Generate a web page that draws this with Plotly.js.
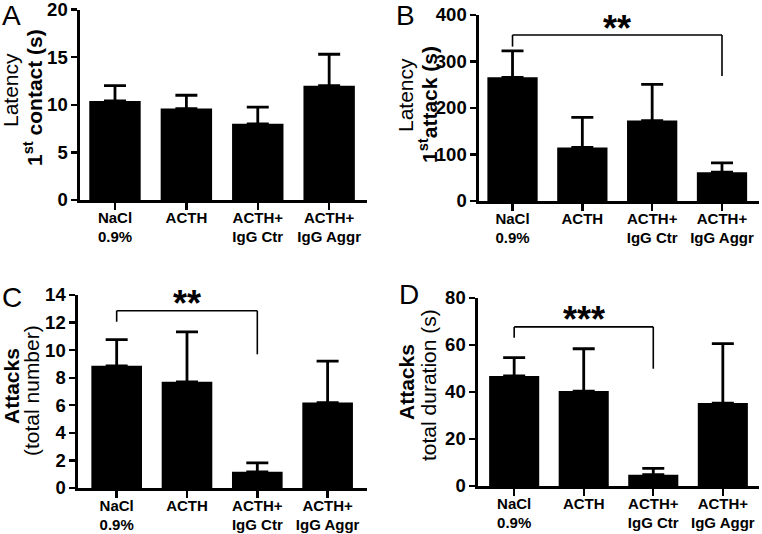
<!DOCTYPE html>
<html><head><meta charset="utf-8">
<script src="https://cdn.plot.ly/plotly-3.0.1.min.js"></script>
<style>html,body{margin:0;padding:0;background:#fff}#chart{width:762px;height:534px}</style>
</head><body><div id="chart"></div><script>
// ---- data ----
const groups = ['NaCl<br>0.9%', 'ACTH', 'ACTH+<br>IgG Ctr', 'ACTH+<br>IgG Aggr'];
const groupIndex = [0, 1, 2, 3];

const latencyContact = [10.4, 9.6, 8.0, 12.0];
const latencyContactSem = [1.6, 1.4, 1.75, 3.3];

const latencyAttack = [266, 115, 173, 62];
const latencyAttackSem = [57, 65, 78, 20];

const attacksNumber = [8.86, 7.7, 1.17, 6.2];
const attacksNumberSem = [1.9, 3.63, 0.65, 3.0];

const attacksDuration = [46.8, 40.4, 4.8, 35.3];
const attacksDurationSem = [7.8, 18.0, 2.7, 25.3];

const yTicksA = [0, 5, 10, 15, 20];
const yTicksB = [0, 100, 200, 300, 400];
const yTicksC = [0, 2, 4, 6, 8, 10, 12, 14];
const yTicksD = [0, 20, 40, 60, 80];

// significance brackets
const sigB = {from: 0, to: 3, y: 357, left: 332, right: 269, label: '**', lx: 1.5, ly: 370};
const sigC = {from: 0, to: 2, y: 12.86, left: 12.06, right: 9.7, label: '**', lx: 1, ly: 13.35};
const sigD = {from: 0, to: 2, y: 67.7, left: 63.1, right: 49.9, label: '***', lx: 1, ly: 70.9};

// ---- build ----
const FONT = 'Liberation Sans, Arial, Helvetica, sans-serif';
function barTrace(vals, sem, xa, ya) {
  return {
    type: 'bar', x: groupIndex, y: vals, xaxis: xa, yaxis: ya, width: 0.72,
    marker: {color: '#000', line: {width: 0}},
    error_y: {type: 'data', symmetric: false, array: sem, arrayminus: sem.map(() => 0),
              color: '#000', thickness: 2.8, width: 11},
    hoverinfo: 'skip', showlegend: false
  };
}
const data = [
  barTrace(latencyContact, latencyContactSem, 'x', 'y'),
  barTrace(latencyAttack, latencyAttackSem, 'x2', 'y2'),
  barTrace(attacksNumber, attacksNumberSem, 'x3', 'y3'),
  barTrace(attacksDuration, attacksDurationSem, 'x4', 'y4')
];

function xAxis(domain, range, anchor) {
  return {domain: domain, range: range, anchor: anchor, tickvals: groupIndex, ticktext: groups,
    showline: true, linecolor: '#000', linewidth: 2.6, ticks: 'outside', ticklen: 7, tickwidth: 2.4,
    tickcolor: '#000', showgrid: false, zeroline: false, fixedrange: true,
    ticklabelstandoff: -5, ticklabeloverflow: 'allow',
    tickfont: {family: FONT, size: 15, color: '#000', weight: 'bold'}};
}
function yAxis(domain, range, ticks, anchor) {
  return {domain: domain, range: range, anchor: anchor, tickvals: ticks, ticktext: ticks.map(String),
    showline: true, linecolor: '#000', linewidth: 2.6, ticks: 'outside', ticklen: 6, tickwidth: 2.4,
    tickcolor: '#000', showgrid: false, zeroline: false, fixedrange: true,
    ticklabeloverflow: 'allow',
    tickfont: {family: FONT, size: 18.5, color: '#000', weight: 'bold'}};
}

const shapes = [];
const annotations = [];
function addSig(s, xa, ya) {
  const ln = {color: '#000', width: 1.6};
  shapes.push({type: 'line', xref: xa, yref: ya, x0: s.from, x1: s.to, y0: s.y, y1: s.y, line: ln});
  shapes.push({type: 'line', xref: xa, yref: ya, x0: s.from, x1: s.from, y0: s.y, y1: s.left, line: ln});
  shapes.push({type: 'line', xref: xa, yref: ya, x0: s.to, x1: s.to, y0: s.y, y1: s.right, line: ln});
  annotations.push({xref: xa, yref: ya, x: s.lx, y: s.ly, text: s.label, showarrow: false,
    xanchor: 'center', yanchor: 'middle', font: {family: FONT, size: 36, color: '#000', weight: 'bold'}});
}
addSig(sigB, 'x2', 'y2');
addSig(sigC, 'x3', 'y3');
addSig(sigD, 'x4', 'y4');

function yTitle(text, px, py, bold) {
  annotations.push({xref: 'paper', yref: 'paper', x: px / 762, y: 1 - py / 534, text: text,
    textangle: -90, showarrow: false, xanchor: 'center', yanchor: 'middle',
    font: {family: FONT, size: 21, color: '#000', weight: bold ? 'bold' : 'normal'}});
}
yTitle('Latency', 11, 90, false);
yTitle('1<sup>st</sup> contact (s)', 33, 98, true);
yTitle('Latency', 405, 95, false);
yTitle('1<sup>st</sup>attack (s)', 428, 105, true);
yTitle('Attacks', 11, 386, true);
yTitle('(total number)', 31, 391, false);
yTitle('Attacks', 406, 382, true);
yTitle('total duration (s)', 428, 385, false);

function panelLetter(t, px, py) {
  annotations.push({xref: 'paper', yref: 'paper', x: px / 762, y: 1 - py / 534, text: t,
    showarrow: false, xanchor: 'left', yanchor: 'middle',
    font: {family: FONT, size: 28, color: '#000'}});
}
panelLetter('A', 0, 16);
panelLetter('B', 394, 16);
panelLetter('C', 0, 297);
panelLetter('D', 397, 294);

const layout = {
  width: 762, height: 534, margin: {l: 0, r: 0, t: 0, b: 0},
  paper_bgcolor: '#fff', plot_bgcolor: '#fff', showlegend: false,
  xaxis: xAxis([80 / 762, 367 / 762], [-0.49, 3.53], 'y'),
  yaxis: yAxis([1 - 200 / 534, 1 - 9.5 / 534], [0, 20], yTicksA, 'x'),
  xaxis2: xAxis([479 / 762, 759 / 762], [-0.48, 3.53], 'y2'),
  yaxis2: yAxis([1 - 201 / 534, 1 - 15 / 534], [0, 400], yTicksB, 'x2'),
  xaxis3: xAxis([78 / 762, 367 / 762], [-0.55, 3.56], 'y3'),
  yaxis3: yAxis([1 - 488 / 534, 1 - 295 / 534], [0, 14], yTicksC, 'x3'),
  xaxis4: xAxis([478 / 762, 759 / 762], [-0.52, 3.52], 'y4'),
  yaxis4: yAxis([1 - 486 / 534, 1 - 298 / 534], [0, 80], yTicksD, 'x4'),
  shapes: shapes, annotations: annotations
};
Plotly.newPlot('chart', data, layout, {staticPlot: true, displayModeBar: false});
</script></body></html>
